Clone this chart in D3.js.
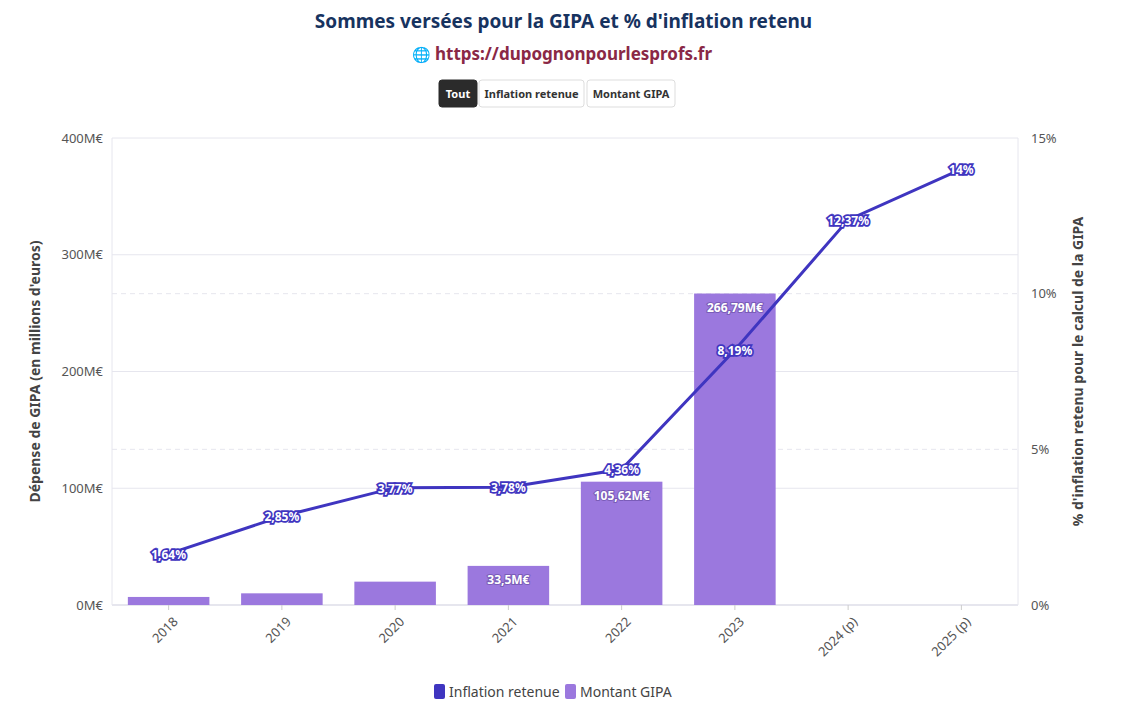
<!DOCTYPE html>
<html><head><meta charset="utf-8">
<script src="https://cdn.jsdelivr.net/npm/d3@7"></script>
<style>
body{margin:0;background:#fff;font-family:"Source Sans Pro","Noto Sans",sans-serif;}
</style></head>
<body><div id="chart"></div>
<script>
const data = [
  { year: '2018', gipa: 6.9, infl: 1.64 },
  { year: '2019', gipa: 10, infl: 2.85 },
  { year: '2020', gipa: 20, infl: 3.77 },
  { year: '2021', gipa: 33.5, infl: 3.78, label: '33,5M€' },
  { year: '2022', gipa: 105.62, infl: 4.36, label: '105,62M€' },
  { year: '2023', gipa: 266.79, infl: 8.19, label: '266,79M€' },
  { year: '2024 (p)', gipa: null, infl: 12.37 },
  { year: '2025 (p)', gipa: null, infl: 14 }
];
const W = 1127, H = 720;
const margin = { top: 138, right: 109, bottom: 115, left: 112 };
const width = W - margin.left - margin.right;
const height = H - margin.top - margin.bottom;
const font = 'Noto Sans, sans-serif';

const root = d3.select('#chart').append('svg').attr('width', W).attr('height', H).style('font-family', font);

root.append('text').attr('x', W / 2).attr('y', 28).attr('text-anchor', 'middle')
  .attr('font-size', 19).attr('font-weight', 700).attr('fill', '#17335f')
  .text("Sommes versées pour la GIPA et % d'inflation retenu");
root.append('text').attr('x', W / 2 + 10).attr('y', 60).attr('text-anchor', 'middle')
  .attr('font-size', 17).attr('font-weight', 700).attr('fill', '#8a2846')
  .text('https://dupognonpourlesprofs.fr');
root.append('text').attr('x', 421).attr('y', 60).attr('text-anchor', 'middle')
  .attr('font-size', 15).attr('fill', '#4f9fb0').text('🌐');

const buttons = [{ t: 'Tout', x: 439, w: 38, on: true }, { t: 'Inflation retenue', x: 479, w: 105 }, { t: 'Montant GIPA', x: 587, w: 88 }];
buttons.forEach(b => {
  root.append('rect').attr('x', b.x).attr('y', 80).attr('width', b.w).attr('height', 27).attr('rx', 3)
    .attr('fill', b.on ? '#2b2b2b' : '#fff').attr('stroke', b.on ? '#2b2b2b' : '#ddd');
  root.append('text').attr('x', b.x + b.w / 2).attr('y', 98).attr('text-anchor', 'middle')
    .attr('font-size', 11).attr('font-weight', 700).attr('fill', b.on ? '#fff' : '#333').text(b.t);
});

const svg = root.append('g').attr('transform', 'translate(' + margin.left + ',' + margin.top + ')');

const x = d3.scaleBand().domain(data.map(d => d.year)).range([0, width]).paddingInner(0.28).paddingOuter(0.14);
const yL = d3.scaleLinear().domain([0, 400]).range([height, 0]);
const yR = d3.scaleLinear().domain([0, 15]).range([height, 0]);

// grid
svg.append('g').selectAll('line').data([100, 200, 300, 400]).enter().append('line')
  .attr('x1', 0).attr('x2', width).attr('y1', d => yL(d)).attr('y2', d => yL(d))
  .attr('stroke', '#e6e6ee');
svg.append('g').selectAll('line').data([5, 10]).enter().append('line')
  .attr('x1', 0).attr('x2', width).attr('y1', d => yR(d)).attr('y2', d => yR(d))
  .attr('stroke', '#e6e6ee').attr('stroke-dasharray', '5,4');
svg.append('line').attr('x1', 0).attr('x2', 0).attr('y1', 0).attr('y2', height).attr('stroke', '#e6e6ee');
svg.append('line').attr('x1', width).attr('x2', width).attr('y1', 0).attr('y2', height).attr('stroke', '#e6e6ee');
svg.append('line').attr('x1', 0).attr('x2', width).attr('y1', height).attr('y2', height).attr('stroke', '#e6e6ee').attr('stroke-width', 2);

// axes
const ax = svg.append('g').attr('transform', 'translate(0,' + height + ')')
  .call(d3.axisBottom(x).tickSize(5));
ax.selectAll('text').attr('transform', 'rotate(-45)').attr('text-anchor', 'end')
  .attr('dx', '-0.4em').attr('dy', '0.9em').attr('font-size', 13).attr('fill', '#555');
const aL = svg.append('g').call(d3.axisLeft(yL).ticks(4).tickSize(0).tickFormat(d => d + 'M€'));
aL.selectAll('text').attr('dx', '-6').attr('font-size', 13).attr('fill', '#555');
const aR = svg.append('g').attr('transform', 'translate(' + width + ',0)')
  .call(d3.axisRight(yR).tickValues([0, 5, 10, 15]).tickSize(0).tickFormat(d => d + '%'));
aR.selectAll('text').attr('dx', '10').attr('font-size', 13).attr('fill', '#555');
[ax, aL, aR].forEach(a => { a.select('.domain').remove(); a.style('font-family', font); });
ax.selectAll('line').attr('stroke', '#ccc');

svg.append('text').attr('transform', 'rotate(-90)').attr('x', -height / 2).attr('y', -72)
  .attr('text-anchor', 'middle').attr('font-size', 14).attr('font-weight', 700).attr('fill', '#444')
  .text("Dépense de GIPA (en millions d'euros)");
svg.append('text').attr('transform', 'rotate(-90)').attr('x', -height / 2).attr('y', width + 65)
  .attr('text-anchor', 'middle').attr('font-size', 14).attr('font-weight', 700).attr('fill', '#444')
  .text('% d\'inflation retenu pour le calcul de la GIPA');

// bars
const bars = data.filter(d => d.gipa !== null);
svg.append('g').selectAll('rect').data(bars).enter().append('rect')
  .attr('x', d => x(d.year)).attr('width', x.bandwidth())
  .attr('y', d => yL(d.gipa)).attr('height', d => height - yL(d.gipa))
  .attr('fill', '#9b78de');
svg.append('g').selectAll('text').data(bars.filter(d => d.label)).enter().append('text')
  .attr('x', d => x(d.year) + x.bandwidth() / 2).attr('y', d => yL(d.gipa) + 18)
  .attr('text-anchor', 'middle').attr('font-size', 12).attr('font-weight', 700)
  .attr('fill', '#fff').attr('stroke', '#7a5cb8').attr('stroke-width', 2).attr('paint-order', 'stroke')
  .text(d => d.label);

// line
const cx = d => x(d.year) + x.bandwidth() / 2;
svg.append('path').datum(data)
  .attr('fill', 'none').attr('stroke', '#3f35c0').attr('stroke-width', 3)
  .attr('d', d3.line().x(cx).y(d => yR(d.infl)));
svg.append('g').selectAll('text').data(data).enter().append('text')
  .attr('x', cx).attr('y', d => yR(d.infl) + 5)
  .attr('text-anchor', 'middle').attr('font-size', 12).attr('font-weight', 700)
  .attr('fill', '#fff').attr('stroke', '#3f35c0').attr('stroke-width', 3.5).attr('paint-order', 'stroke')
  .text(d => String(d.infl).replace('.', ',') + '%');

// legend
const lg = root.append('g').attr('transform', 'translate(434,684)');
lg.append('rect').attr('width', 11).attr('height', 15).attr('rx', 2).attr('fill', '#3f35c0');
lg.append('text').attr('x', 15).attr('y', 13).attr('font-size', 14).attr('fill', '#444').text('Inflation retenue');
lg.append('rect').attr('x', 131).attr('width', 11).attr('height', 15).attr('rx', 2).attr('fill', '#9b78de');
lg.append('text').attr('x', 146).attr('y', 13).attr('font-size', 14).attr('fill', '#444').text('Montant GIPA');
</script></body></html>
